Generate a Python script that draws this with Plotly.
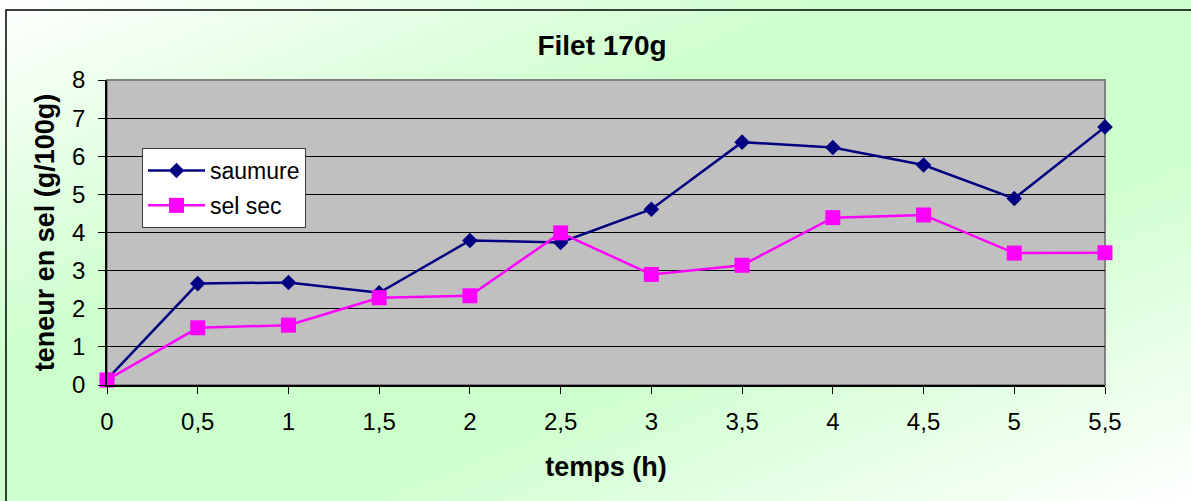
import base64, struct, zlib
import numpy as np
import plotly.graph_objects as go

# ---- data ----
temps = [0, 0.5, 1, 1.5, 2, 2.5, 3, 3.5, 4, 4.5, 5, 5.5]
saumure = [0.15, 2.66, 2.69, 2.42, 3.79, 3.74, 4.61, 6.37, 6.23, 5.77, 4.89, 6.77]
sel_sec = [0.13, 1.50, 1.57, 2.29, 2.34, 3.99, 2.90, 3.14, 4.39, 4.46, 3.46, 3.47]
y_ticks = [0, 1, 2, 3, 4, 5, 6, 7, 8]

W, H = 1191, 501
L, R, T, B = 107, 86, 80, 116
PW, PH = W - L - R, H - T - B


def px_x(p):
    return (p - L) / PW


def px_y(p):
    return 1 - (p - T) / PH


# ---- gradient background image (white corners, light-green diagonal) ----
def make_png(arr):
    h, w, _ = arr.shape
    raw = b"".join(b"\x00" + arr[i].tobytes() for i in range(h))

    def chunk(tag, data):
        c = struct.pack(">I", len(data)) + tag + data
        return c + struct.pack(">I", zlib.crc32(tag + data) & 0xFFFFFFFF)

    png = b"\x89PNG\r\n\x1a\n"
    png += chunk(b"IHDR", struct.pack(">IIBBBBB", w, h, 8, 2, 0, 0, 0))
    png += chunk(b"IDAT", zlib.compress(raw, 9))
    png += chunk(b"IEND", b"")
    return "data:image/png;base64," + base64.b64encode(png).decode()


gw, gh = 240, 100
xx, yy = np.meshgrid(np.linspace(0, 1, gw), np.linspace(0, 1, gh))
u = (xx + yy) / 2.0  # 0 top-left, 1 bottom-right
t = 1 - np.abs(u - 0.5) * 2  # 1 on the middle diagonal
t = np.clip(t * 1.35, 0, 1)
white = np.array([255, 255, 255], float)
green = np.array([204, 255, 204], float)
img = (white[None, None, :] * (1 - t[..., None]) + green[None, None, :] * t[..., None])
img = img.round().astype(np.uint8)
bg_src = make_png(img)

fig = go.Figure()
fig.add_trace(go.Scatter(
    x=temps, y=saumure, mode="lines+markers", name="saumure",
    line=dict(color="#000080", width=2.5),
    marker=dict(symbol="diamond", size=12, color="#000080"),
    cliponaxis=False, legendgroup="a",
))
fig.add_trace(go.Scatter(
    x=temps, y=sel_sec, mode="lines+markers", name="sel sec",
    line=dict(color="#FF00FF", width=2.5),
    marker=dict(symbol="square", size=15, color="#FF00FF"),
    cliponaxis=False, legendgroup="b",
))

font_family = "Liberation Sans, Arial, sans-serif"

fig.update_layout(
    width=W, height=H,
    margin=dict(l=L, r=R, t=T, b=B, autoexpand=False),
    paper_bgcolor="white",
    plot_bgcolor="rgba(0,0,0,0)",
    separators=", ",
    font=dict(family=font_family, size=24, color="black"),
    title=dict(text="<b>Filet 170g</b>", x=602 / W, xanchor="center",
               y=1 - 45 / H, yanchor="middle",
               font=dict(size=28, family=font_family, color="black")),
    showlegend=True,
    legend=dict(x=px_x(142), y=px_y(148), xanchor="left", yanchor="top",
                bgcolor="white", bordercolor="#404040", borderwidth=1,
                font=dict(size=23, family=font_family, color="black"),
                itemwidth=57, tracegroupgap=2),
    images=[dict(source=bg_src, xref="paper", yref="paper",
                 x=px_x(0), y=px_y(0), sizex=W / PW, sizey=H / PH,
                 xanchor="left", yanchor="top", sizing="stretch",
                 layer="below")],
    shapes=[
        # plot area fill + right border
        dict(type="rect", xref="paper", yref="paper", x0=0, x1=1, y0=0, y1=1,
             fillcolor="#C0C0C0", line=dict(color="#808080", width=2),
             layer="below"),
        # top border of plot area in gray above the grid
        dict(type="line", xref="paper", yref="paper", x0=0, x1=1, y0=1, y1=1,
             line=dict(color="#808080", width=2), layer="above"),
        # outer chart border
        dict(type="rect", xref="paper", yref="paper",
             x0=px_x(6), x1=px_x(W + 20), y0=px_y(H + 20), y1=px_y(10),
             line=dict(color="black", width=1.5), fillcolor="rgba(0,0,0,0)",
             layer="above"),
    ],
)

fig.update_xaxes(
    range=[0, 5.5], tickmode="array", tickvals=temps,
    showgrid=False, zeroline=False,
    showline=True, linecolor="black", linewidth=1.5,
    ticks="outside", ticklen=7, tickcolor="black", tickwidth=1,
    ticklabelstandoff=7,
    tickfont=dict(size=24, family=font_family, color="black"),
    title=dict(text="<b>temps (h)</b>", standoff=24,
               font=dict(size=27, family=font_family, color="black")),
)
fig.update_yaxes(
    range=[0, 8], tickmode="array", tickvals=y_ticks,
    showgrid=True, gridcolor="black", gridwidth=1, zeroline=False,
    showline=True, linecolor="black", linewidth=1.5,
    ticks="outside", ticklen=7, tickcolor="black", tickwidth=1,
    ticklabelstandoff=8,
    tickfont=dict(size=24, family=font_family, color="black"),
    title=dict(text="<b>teneur en sel (g/100g)</b>", standoff=10,
               font=dict(size=27, family=font_family, color="black")),
)

fig.write_html("out.html", config={"displayModeBar": False},
               post_script="document.body.style.margin='0';")
